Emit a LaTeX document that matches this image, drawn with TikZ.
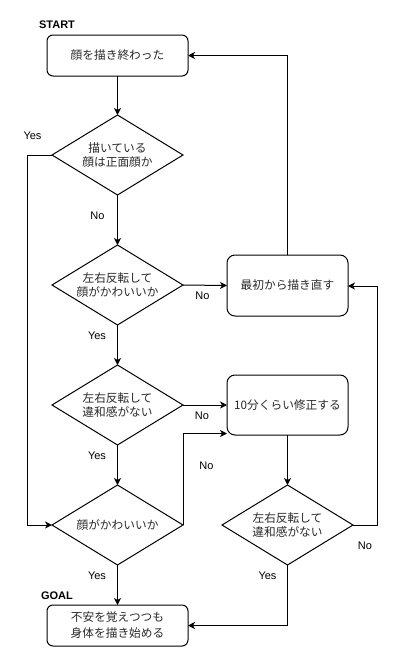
\documentclass[tikz,border=0pt]{standalone}
\usepackage{fontspec}
\newfontfamily\jp{Noto Sans CJK JP}
\newfontfamily\lab{Liberation Sans}
\usetikzlibrary{shapes.geometric,arrows.meta,calc}
\definecolor{txt}{HTML}{2A2A2A}
\begin{document}
\begin{tikzpicture}[x=1pt,y=-1pt,
  every node/.style={inner sep=0pt,outer sep=0pt},
  jtext/.style={font=\jp\fontsize{11.7}{14}\selectfont,text=txt,align=center},
  rbox/.style={jtext,draw,line width=1pt,rounded corners=6pt,minimum width=141pt,minimum height=41pt},
  rbox2/.style={jtext,draw,line width=1pt,rounded corners=8pt,minimum width=121pt,minimum height=60pt},
  dia/.style={jtext,draw,line width=1pt,diamond,aspect=1.6375,minimum width=131pt,minimum height=80pt},
  lbl/.style={font=\lab\fontsize{11}{13}\selectfont},
  ttl/.style={font=\lab\bfseries\fontsize{11}{13}\selectfont},
  conn/.style={line width=1pt,-{Stealth[length=7pt,width=7pt,inset=2pt]}},
  seg/.style={line width=1pt}]
\useasboundingbox[fill=white] (0,0) rectangle (407,667);

\node[rbox] (start) at (117.5,55.5) {顔を描き終わった};
\node[dia] (d1) at (117.5,155) {描いている\\顔は正面顔か};
\node[dia] (d2) at (117.5,285) {左右反転して\\顔がかわいいか};
\node[dia] (d3) at (117.5,405) {左右反転して\\違和感がない};
\node[dia] (d4) at (117.5,525) {顔がかわいいか};
\node[rbox,font=\jp\fontsize{11.7}{16}\selectfont] (goal) at (117.5,625.5) {不安を覚えつつも\\身体を描き始める};
\node[rbox2,minimum height=61pt] (redo) at (287.5,285.5) {最初から描き直す};
\node[rbox2] (fix) at (287.5,405) {10分くらい修正する};
\node[dia] (d6) at (287.5,525) {左右反転して\\違和感がない};

\node[ttl] (tstart) at (57,25) {START};
\node[ttl] (tgoal) at (57,596) {GOAL};

\coordinate (lcorner1) at (27,155);
\coordinate (lcorner2) at (27,525);
\coordinate (topc) at (287.5,55.5);
\coordinate (fixin) at ($(fix.south west)+(0,-1.5)$);
\coordinate (rc1) at (377.7,525);
\coordinate (rc2) at (377.7,286);
\coordinate (bc) at (287.5,625.5);

\draw[conn] (start) -- (d1);
\draw[conn] (d1) -- (d2);
\draw[conn] (d1.west) -- (lcorner1) -- (lcorner2) -- (d4.west);
\draw[conn] (d2.east) -- (redo.west);
\draw[conn] (redo.north) -- (topc) -- (start.east);
\draw[conn] (d2) -- (d3);
\draw[conn] (d3.east) -- (fix.west);
\draw[conn] (d3) -- (d4);
\draw[conn] (d4.east) -- (d4.east |- fixin) -- (fixin);
\draw[conn] (fix) -- (d6);
\draw[conn] (d6.east) -- (rc1) -- (rc2) -- (redo.east |- rc2);
\draw[conn] (d6.south) -- (bc) -- (goal.east);
\draw[conn] (d4) -- (goal);

\node[lbl] (y1) at (32.5,136) {Yes};
\node[lbl] (n1) at (97.5,216) {No};
\node[lbl] (n2) at (202.5,296) {No};
\node[lbl] (y2) at (97,336) {Yes};
\node[lbl] (n3) at (202,416) {No};
\node[lbl] (n4) at (206.5,466) {No};
\node[lbl] (y3) at (97,456) {Yes};
\node[lbl] (y4) at (97,576) {Yes};
\node[lbl] (y5) at (267.5,576) {Yes};
\node[lbl] (n5) at (365,546) {No};
\end{tikzpicture}
\end{document}
